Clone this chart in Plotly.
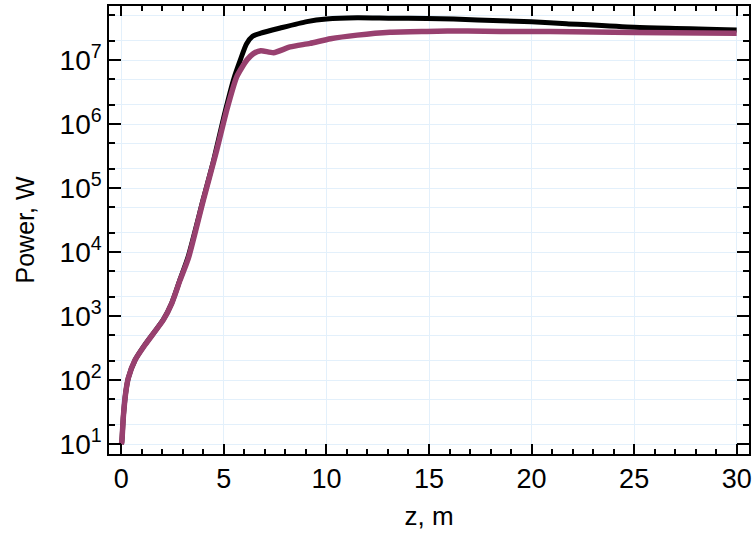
import plotly.graph_objects as go

# z positions (m) and power (W)
z_black = [0.0, 0.02, 0.1, 0.21, 0.34, 0.67, 1.16, 1.64, 2.05, 2.46, 2.86, 3.27, 4.0, 4.5, 5.0, 5.5, 5.8, 6.1, 6.4, 6.8, 7.75, 9.05, 10.0, 11.5, 13.1, 14.9, 16.2, 18.5, 20.0, 21.7, 25.0, 30.0]
p_black = [1.0e1, 1.05e1, 2.7e1, 6.2e1, 1.07e2, 2.05e2, 3.6e2, 5.8e2, 8.8e2, 1.6e3, 3.7e3, 8.7e3, 6.8e4, 2.7e5, 1.3e6, 5.3e6, 1.0e7, 1.78e7, 2.35e7, 2.63e7, 3.16e7, 3.98e7, 4.37e7, 4.57e7, 4.5e7, 4.47e7, 4.37e7, 4.1e7, 3.95e7, 3.7e7, 3.24e7, 2.95e7]

z_purple = [0.0, 0.02, 0.1, 0.21, 0.34, 0.67, 1.16, 1.64, 2.05, 2.46, 2.86, 3.27, 4.0, 4.65, 5.14, 5.63, 6.12, 6.44, 6.8, 7.42, 8.23, 9.2, 10.2, 11.5, 13.1, 14.9, 16.9, 18.5, 20.9, 25.0, 30.0]
p_purple = [1.0e1, 1.05e1, 2.7e1, 6.2e1, 1.07e2, 2.05e2, 3.55e2, 5.75e2, 8.7e2, 1.58e3, 3.6e3, 8.0e3, 6.5e4, 3.9e5, 1.66e6, 5.5e6, 1.0e7, 1.26e7, 1.4e7, 1.3e7, 1.6e7, 1.82e7, 2.15e7, 2.45e7, 2.72e7, 2.8e7, 2.85e7, 2.8e7, 2.8e7, 2.7e7, 2.63e7]

x_ticks = [0, 5, 10, 15, 20, 25, 30]
y_ticks = [1e1, 1e2, 1e3, 1e4, 1e5, 1e6, 1e7]
y_tick_text = ["10<sup>%d</sup>" % k for k in range(1, 8)]

FONT = "Liberation Sans, Arial"

fig = go.Figure()
fig.add_trace(go.Scatter(x=z_black, y=p_black, mode="lines",
                         line=dict(color="black", width=5, shape="spline", smoothing=0.6),
                         showlegend=False))
fig.add_trace(go.Scatter(x=z_purple, y=p_purple, mode="lines",
                         line=dict(color="#98406f", width=5.5, shape="spline", smoothing=0.6),
                         showlegend=False))

axis_common = dict(showline=True, linecolor="black", linewidth=1.5, mirror="allticks",
                   ticks="inside", tickcolor="black", zeroline=False, automargin=False,
                   gridcolor="#e3f0fb", gridwidth=1)

fig.update_xaxes(range=[-0.6, 30.6], tickvals=x_ticks, ticklen=10, tickwidth=1.5,
                 tickfont=dict(family=FONT, size=27, color="black"),
                 minor=dict(dtick=1, ticks="inside", ticklen=5, tickcolor="black", showgrid=False),
                 title=dict(text="z, m", font=dict(family=FONT, size=26, color="black"), standoff=14),
                 **axis_common)
fig.update_yaxes(type="log", range=[0.844, 7.844], tickvals=y_ticks, ticktext=y_tick_text,
                 ticklen=12, tickwidth=1.5,
                 tickfont=dict(family=FONT, size=28, color="black"),
                 minor=dict(ticks="inside", ticklen=6, tickcolor="black", showgrid=True,
                            gridcolor="#e3f0fb", gridwidth=1),
                 title=dict(text="Power, W", font=dict(family=FONT, size=25, color="black"), standoff=18),
                 **axis_common)

fig.update_layout(width=754, height=538, margin=dict(l=109, r=5, t=6, b=84),
                  plot_bgcolor="white", paper_bgcolor="white")

fig.write_html("out.html", config={"displayModeBar": False},
               post_script="document.body.style.margin='0px';")
